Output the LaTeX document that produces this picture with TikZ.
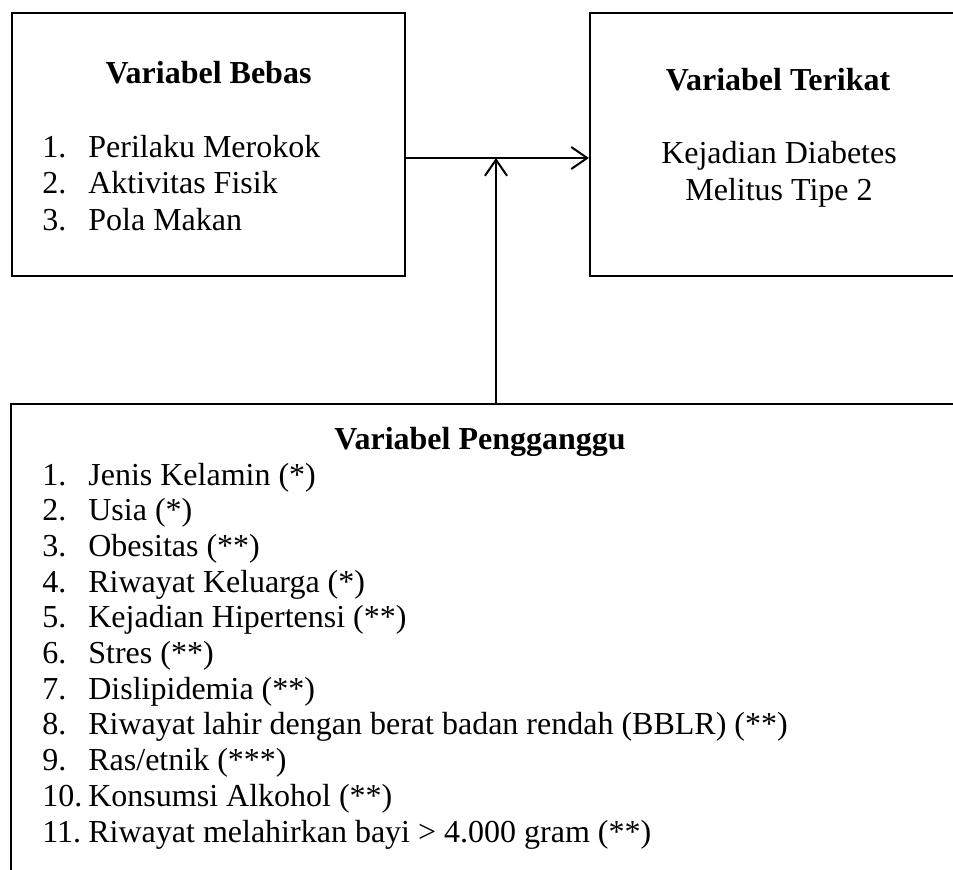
\documentclass[tikz,border=0pt]{standalone}
\usepackage{fontspec}
\setmainfont{Liberation Serif}
\usepackage{tikz}
\usetikzlibrary{arrows.meta}

\newcommand{\itemno}[1]{\makebox[23pt][l]{#1}}

\tikzset{
  box/.style={shape=rectangle,draw=black,line width=1pt,inner sep=0pt},
  txt/.style={font=\fontsize{16pt}{18pt}\selectfont,inner sep=0pt},
  head/.style={txt,font=\fontsize{16pt}{18pt}\selectfont\bfseries,anchor=base},
  line/.style={txt,anchor=base west},
  arr/.style={line width=1pt,-{Straight Barb[length=8pt,width=11pt,line width=1pt]}}
}

\begin{document}
\begin{tikzpicture}[x=0.5pt,y=-0.5pt]

	\clip (0,0) rectangle (953,869);

	\node[box,minimum width=196.5pt,minimum height=131.5pt] (bebas) at (208.5, 144.5) {};
	\node[box,minimum width=210pt,minimum height=131.5pt] (terikat) at (800, 144.5) {};
	\node[box,minimum width=500pt,minimum height=260pt] (pengganggu) at (511, 664) {};

	\node[head] (tbebas) at (208.5, 83) {Variabel Bebas};
	\node[line] (b1) at (42, 157)   {\itemno{1.}Perilaku Merokok};
	\node[line] (b2) at (42, 193.5) {\itemno{2.}Aktivitas Fisik};
	\node[line] (b3) at (42, 230)   {\itemno{3.}Pola Makan};

	\node[head] (tterikat) at (778, 90) {Variabel Terikat};
	\node[txt,anchor=base] (t1) at (779, 163) {Kejadian Diabetes};
	\node[txt,anchor=base] (t2) at (779, 200) {Melitus Tipe 2};

	\node[head] (tpengganggu) at (480, 449) {Variabel Pengganggu};
	\node[line] (p1)  at (42, 485)   {\itemno{1.}Jenis Kelamin (*)};
	\node[line] (p2)  at (42, 520.7) {\itemno{2.}Usia (*)};
	\node[line] (p3)  at (42, 556.4) {\itemno{3.}Obesitas (**)};
	\node[line] (p4)  at (42, 592.1) {\itemno{4.}Riwayat Keluarga (*)};
	\node[line] (p5)  at (42, 627.8) {\itemno{5.}Kejadian Hipertensi (**)};
	\node[line] (p6)  at (42, 663.5) {\itemno{6.}Stres (**)};
	\node[line] (p7)  at (42, 699.2) {\itemno{7.}Dislipidemia (**)};
	\node[line] (p8)  at (42, 734.9) {\itemno{8.}Riwayat lahir dengan berat badan rendah (BBLR) (**)};
	\node[line] (p9)  at (42, 770.6) {\itemno{9.}Ras/etnik (***)};
	\node[line] (p10) at (42, 806.3) {\itemno{10.}Konsumsi Alkohol (**)};
	\node[line] (p11) at (42, 842)   {\itemno{11.}Riwayat melahirkan bayi > 4.000 gram (**)};

	\coordinate (jn) at (496, 158);

	\draw[arr] (bebas.east |- jn) -- (terikat.west |- jn);
	\draw[arr] (pengganggu.north -| jn) -- (jn);

\end{tikzpicture}
\end{document}
